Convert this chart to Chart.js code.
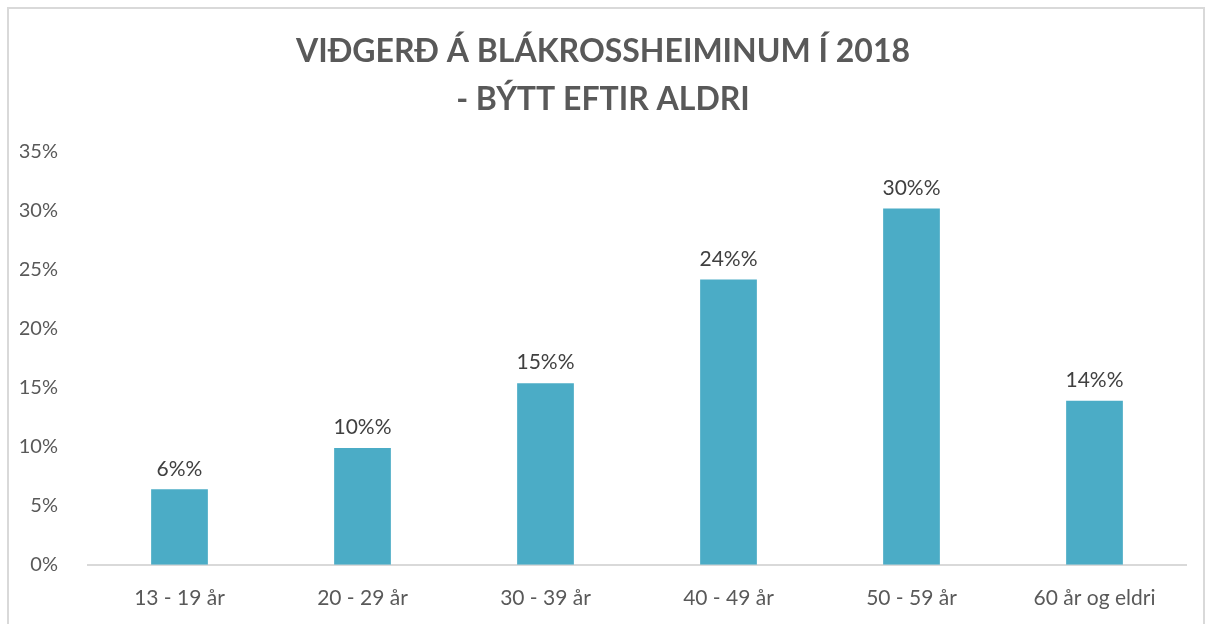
<!DOCTYPE html>
<html>
<head>
<meta charset="utf-8">
<script src="https://cdn.jsdelivr.net/npm/chart.js@4"></script>
<style>
  html, body { margin: 0; padding: 0; background: #fff; overflow: hidden; }
  #frame { position: absolute; left: 7px; top: 7px; width: 1194px; height: 700px; border: 2px solid #d9d9d9; }
  #wrap { position: absolute; left: 0; top: 0; width: 1206px; height: 624px; }
</style>
</head>
<body>
<div id="frame"></div>
<div id="wrap"><canvas id="chart" width="1206" height="624"></canvas></div>
<script>
const categories = ["13 - 19 år", "20 - 29 år", "30 - 39 år", "40 - 49 år", "50 - 59 år", "60 år og eldri"];
const shares = [0.064, 0.099, 0.154, 0.242, 0.302, 0.139];
const yTicks = [0, 0.05, 0.10, 0.15, 0.20, 0.25, 0.30, 0.35];
const titleLines = ["VIÐGERÐ Á BLÁKROSSHEIMINUM Í 2018", "- BÝTT EFTIR ALDRI"];

const FONT = "Lato, 'Open Sans', sans-serif";

// labels above bars, Excel-style "6%%"
const barLabels = {
  id: 'barLabels',
  afterDatasetsDraw(chart) {
    const ctx = chart.ctx;
    const meta = chart.getDatasetMeta(0);
    ctx.save();
    ctx.font = "21px " + FONT;
    ctx.fillStyle = '#404040';
    ctx.textAlign = 'center';
    ctx.textBaseline = 'bottom';
    meta.data.forEach((bar, i) => {
      ctx.fillText(Math.round(shares[i] * 100) + '%%', bar.x, bar.y - 10);
    });
    ctx.restore();
  }
};

new Chart(document.getElementById('chart'), {
  type: 'bar',
  data: {
    labels: categories,
    datasets: [{
      data: shares,
      backgroundColor: '#4bacc6',
      barPercentage: 0.62,
      categoryPercentage: 0.5
    }]
  },
  options: {
    responsive: false,
    animation: false,
    layout: { padding: { left: 20, right: 20, bottom: 0 } },
    plugins: {
      legend: { display: false },
      tooltip: { enabled: false },
      title: {
        display: true,
        text: titleLines,
        color: '#595959',
        font: { family: FONT, size: 32, weight: 'bold', lineHeight: 1.5 },
        padding: { top: 28, bottom: 28 }
      }
    },
    scales: {
      x: {
        grid: { display: false },
        border: { color: '#d9d9d9', width: 2 },
        ticks: { color: '#595959', font: { family: FONT, size: 21 }, padding: 13 }
      },
      y: {
        min: 0,
        max: 0.35,
        afterBuildTicks(scale) { scale.ticks = yTicks.map(v => ({ value: v })); },
        afterFit(scale) { scale.width = 68; },
        grid: { display: false },
        border: { display: false },
        ticks: {
          color: '#595959',
          font: { family: FONT, size: 20 },
          padding: 22,
          callback: v => Math.round(v * 100) + '%'
        }
      }
    }
  },
  plugins: [barLabels]
});
</script>
</body>
</html>
